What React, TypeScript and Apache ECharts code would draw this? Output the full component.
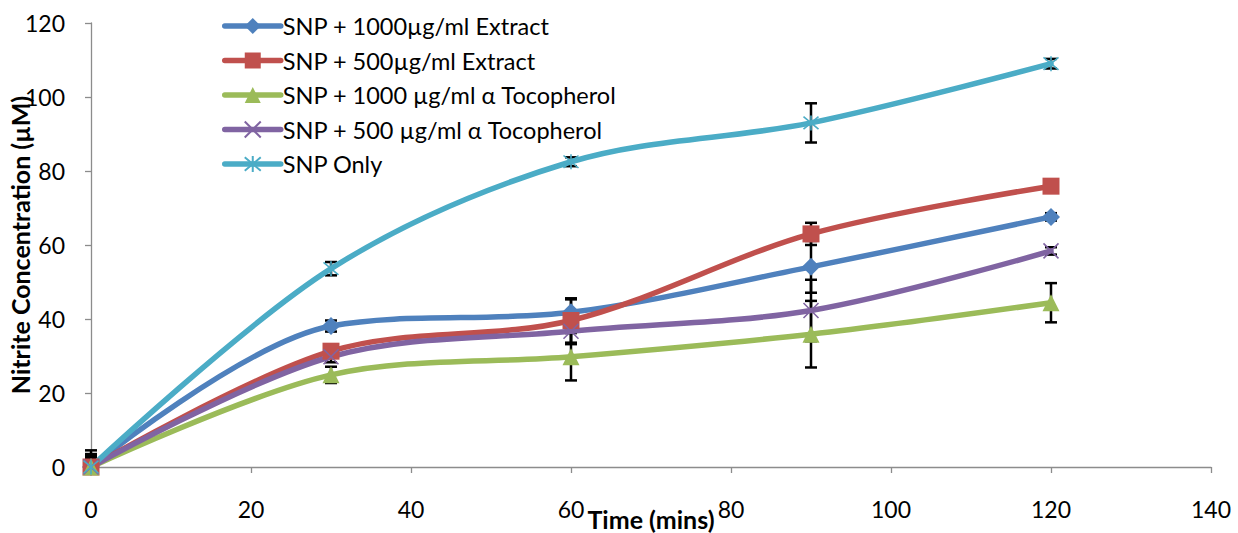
import React, { useEffect, useRef } from "react";
import * as echarts from "echarts";

const times = [0, 30, 60, 90, 120];
const seriesNames = [
  "SNP + 1000µg/ml Extract",
  "SNP + 500µg/ml Extract",
  "SNP + 1000 µg/ml α Tocopherol",
  "SNP + 500 µg/ml α Tocopherol",
  "SNP Only",
];
const extract1000 = [0, 38.1, 41.8, 54.1, 67.6];
const extract500 = [0, 31.3, 39.6, 63, 75.9];
const toco1000 = [0, 24.9, 29.8, 35.9, 44.4];
const toco500 = [0, 29.8, 36.7, 42.3, 58.4];
const snpOnly = [0, 53.6, 82.5, 93, 109];

const errExtract1000 = [4.5, 1.5, 3.5, 7, 1];
const errExtract500 = [3.5, 1.5, 6, 3, 1];
const errToco1000 = [2.5, 2.2, 6.4, 9, 5.3];
const errToco500 = [3, 1.5, 3.5, 8.3, 1];
const errSnpOnly = [1.5, 1.8, 1.2, 5.3, 1.3];

const xTicks = { min: 0, max: 140, interval: 20 };
const yTicks = { min: 0, max: 120, interval: 20 };

const colors = ["#4F81BD", "#C0504D", "#9BBB59", "#8064A2", "#4BACC6"];
const FONT = "Lato";

const xPath = "path://M0,0L10,10M10,0L0,10";
const starPath = "path://M0,0L10,10M10,0L0,10M5,-1L5,11";

export default function App() {
  const ref = useRef<HTMLDivElement>(null);
  useEffect(() => {
    document.body.style.margin = "0";
    const chart = echarts.init(ref.current!, null, { renderer: "svg" });
    const values = [extract1000, extract500, toco1000, toco500, snpOnly];
    const errs = [errExtract1000, errExtract500, errToco1000, errToco500, errSnpOnly];
    const symbols = ["diamond", "rect", "triangle", xPath, starPath];
    const symSizes = [18, 17, 17, 15, 15];
    const errData: number[][] = [];
    values.forEach((vals, si) =>
      vals.forEach((v, i) => errData.push([times[i], v, errs[si][i]]))
    );
    const lineSeries = values.map((vals, si) => {
      const stroked = si >= 3;
      return {
        name: seriesNames[si],
        type: "line",
        smooth: 0.33,
        data: vals.map((v, i) => [times[i], v]),
        symbol: symbols[si],
        symbolSize: symSizes[si],
        showAllSymbol: true,
        z: 3,
        lineStyle: { color: colors[si], width: 5.5, cap: "round" },
        itemStyle: stroked
          ? { color: "rgba(0,0,0,0)", borderColor: colors[si], borderWidth: 1.6 }
          : { color: colors[si], borderWidth: 0 },
        emphasis: { disabled: true },
      };
    });
    const option: any = {
      animation: false,
      textStyle: { fontFamily: FONT },
      grid: { left: 91, right: 27, top: 23, bottom: 66, outerBoundsMode: "none" },
      legend: {
        data: seriesNames,
        orient: "vertical",
        left: 217,
        top: 9,
        itemWidth: 56,
        itemHeight: 20,
        itemGap: 10.5,
        lineStyle: { width: 5.5, cap: "round" },
        textStyle: { fontFamily: FONT, fontSize: 23.5, color: "#000", padding: [0, 0, 0, -3] },
        selectedMode: false,
      },
      xAxis: {
        type: "value",
        ...xTicks,
        name: "Time (mins)",
        nameLocation: "middle",
        nameGap: 39,
        nameMoveOverlap: false,
        nameTextStyle: { fontFamily: FONT, fontSize: 25, fontWeight: "bold", color: "#000" },
        axisLine: { show: true, lineStyle: { color: "#8C8C8C", width: 1.3 } },
        axisTick: { show: true, length: 6, lineStyle: { color: "#8C8C8C", width: 1.3 } },
        axisLabel: { fontFamily: FONT, fontSize: 23, color: "#000", margin: 30 },
        splitLine: { show: false },
      },
      yAxis: {
        type: "value",
        ...yTicks,
        name: "Nitrite Concentration (µM)",
        nameLocation: "middle",
        nameGap: 59,
        nameMoveOverlap: false,
        nameTextStyle: { fontFamily: FONT, fontSize: 25, fontWeight: "bold", color: "#000" },
        axisLine: { show: true, lineStyle: { color: "#8C8C8C", width: 1.3 } },
        axisTick: { show: true, length: 6, lineStyle: { color: "#8C8C8C", width: 1.3 } },
        axisLabel: { fontFamily: FONT, fontSize: 23, color: "#000", margin: 26 },
        splitLine: { show: false },
      },
      series: [
        {
          type: "custom",
          name: "errors",
          z: 2,
          data: errData,
          renderItem: (params: any, api: any) => {
            const x = api.value(0);
            const y = api.value(1);
            const e = api.value(2);
            const lo = Math.max(0, y - e);
            const top = api.coord([x, y + e]);
            const bot = api.coord([x, lo]);
            const hw = 6;
            const st = { stroke: "#000", lineWidth: 2.5 };
            const children: any[] = [
              { type: "line", shape: { x1: top[0], y1: top[1], x2: bot[0], y2: bot[1] }, style: st },
              { type: "line", shape: { x1: top[0] - hw, y1: top[1], x2: top[0] + hw, y2: top[1] }, style: st },
            ];
            if (y - e >= 0) {
              children.push({ type: "line", shape: { x1: bot[0] - hw, y1: bot[1], x2: bot[0] + hw, y2: bot[1] }, style: st });
            }
            return { type: "group", children };
          },
        },
        ...lineSeries,
      ],
    };
    chart.setOption(option);
    return () => chart.dispose();
  }, []);
  return <div ref={ref} style={{ width: 1238, height: 533 }} />;
}
